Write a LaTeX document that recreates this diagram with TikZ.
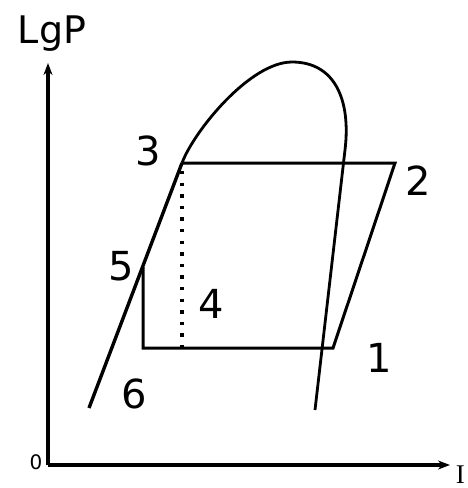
\documentclass[tikz,border=0pt]{standalone}
\usepackage{fontspec}
\setmainfont{DejaVu Sans}
\newfontfamily\serifI{Liberation Serif}
\usetikzlibrary{arrows.meta}
\tikzset{
  axis/.style={line width=3.8pt, -{Stealth[length=12pt,width=9pt]}},
  dome/.style={line width=2.8pt},
  liquid/.style={line width=3.4pt},
  cyc/.style={line width=3pt, line join=miter},
  dots/.style={line width=3.4pt, dash pattern=on 3.4pt off 8.2pt},
  lbl/.style={font=\fontsize{40}{44}\selectfont, anchor=base, inner sep=0pt},
}
\begin{document}
\begin{tikzpicture}[x=1pt,y=-1pt]
\useasboundingbox (0,0) rectangle (468,488);
% coordinates
\coordinate (O) at (48,465);
\coordinate (Ytop) at (48,63);
\coordinate (Xend) at (450,465);
\coordinate (p1) at (333,348);
\coordinate (p2) at (395,163);
\coordinate (p3) at (182,163);
\coordinate (p4) at (182,348);
\coordinate (p5) at (143,267);
\coordinate (p6) at (143,348);
\coordinate (lqs) at (89,408);
\coordinate (top) at (292,62);
\coordinate (rb) at (345,150);
\coordinate (vend) at (315,410);
% axes
\draw[axis] (O) -- (Ytop);
\draw[axis] (O) -- (Xend);
% saturation dome
\draw[liquid] (lqs) -- (p3);
\draw[dome] (p3) .. controls (194,131) and (250,62) .. (top)
  .. controls (335,62) and (351,100) .. (rb) -- (vend);
% cycle
\draw[cyc] (p3) -- (p2) -- (p1) -- (p6) -- (p5);
\draw[dots] ([yshift=-8pt]p3) -- (p4);
% labels
\node[lbl, font=\fontsize{38}{44}\selectfont] (lgp) at (52,43) {LgP};
\node[lbl] (l3) at (148,165) {3};
\node[lbl] (l2) at (418,195) {2};
\node[lbl] (l5) at (121,280) {5};
\node[lbl] (l4) at (211,318) {4};
\node[lbl] (l1) at (379,372) {1};
\node[lbl] (l6) at (134,408) {6};
\node[lbl, font=\fontsize{20}{22}\selectfont] (l0) at (36,469) {0};
\node[lbl, font=\serifI\fontsize{27}{30}\selectfont, anchor=base east] (lI) at (465,483) {I};
\end{tikzpicture}
\end{document}
